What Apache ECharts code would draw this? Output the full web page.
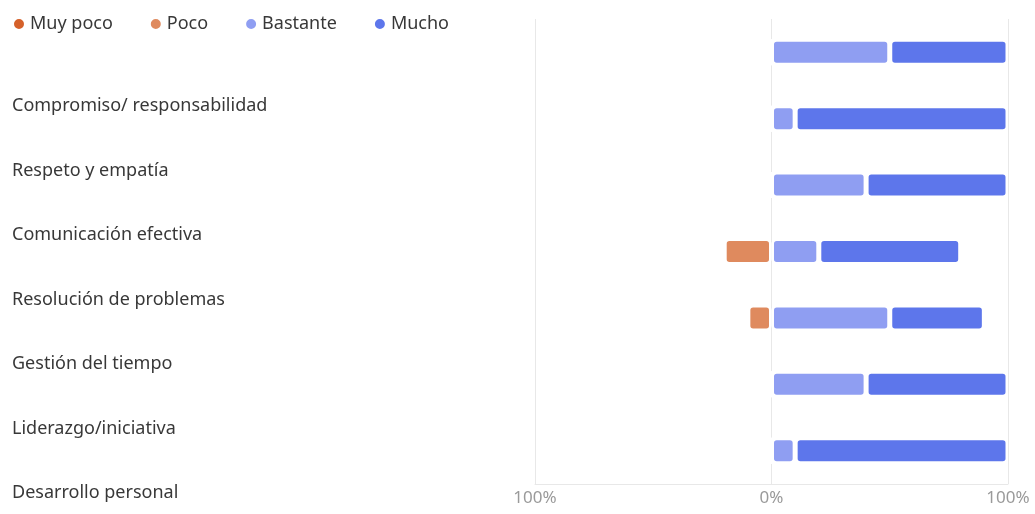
<!DOCTYPE html>
<html>
<head>
<meta charset="utf-8">
<script src="https://cdn.jsdelivr.net/npm/echarts@6/dist/echarts.min.js"></script>
<style>
  html, body { margin: 0; padding: 0; background: #fff; }
  #chart { width: 1035px; height: 514px; }
</style>
</head>
<body>
<div id="chart"></div>
<script>
// Competencias y grado de valoración (% de respuestas)
const categories = [
  'Compromiso/ responsabilidad',
  'Respeto y empatía',
  'Comunicación efectiva',
  'Resolución de problemas',
  'Gestión del tiempo',
  'Liderazgo/iniciativa',
  'Desarrollo personal'
];
const muyPoco  = [0, 0, 0, 0, 0, 0, 0];
const poco     = [0, 0, 0, 20, 10, 0, 0];
const bastante = [50, 10, 40, 20, 50, 40, 10];
const mucho    = [50, 90, 60, 60, 40, 60, 90];
const xTicks = [-100, 0, 100];

const colors = {
  muyPoco: '#D5612A',
  poco: '#DF8A5E',
  bastante: '#8F9EF2',
  mucho: '#5D76EB'
};
const FONT = 'Noto Sans';
const GRID_LINE = '#e8e8e8';

const barStyle = (color) => ({
  color: color,
  borderColor: '#ffffff',
  borderWidth: 2.5,
  borderRadius: 4
});

const chart = echarts.init(document.getElementById('chart'), null, { renderer: 'canvas' });

chart.setOption({
  animation: false,
  textStyle: { fontFamily: FONT },
  legend: {
    data: ['Muy poco', 'Poco', 'Bastante', 'Mucho'],
    left: 7,
    top: 10,
    icon: 'circle',
    itemWidth: 12,
    itemHeight: 12,
    itemGap: 36,
    textStyle: { fontFamily: FONT, fontSize: 18, color: '#383838' }
  },
  grid: [
    { left: 535, right: 27, top: 19, bottom: 30 },
    { left: 0, right: 520, top: 106, height: 387 }
  ],
  xAxis: [
    {
      gridIndex: 0,
      type: 'value',
      min: xTicks[0],
      max: xTicks[xTicks.length - 1],
      interval: 100,
      axisLine: { show: true, onZero: false, lineStyle: { color: GRID_LINE, width: 1 } },
      axisTick: { show: false },
      splitLine: { show: true, lineStyle: { color: GRID_LINE, width: 1 } },
      axisLabel: {
        color: '#9a9a9a',
        fontSize: 17,
        fontFamily: FONT,
        margin: 6,
        formatter: (v) => Math.abs(v) + '%'
      }
    },
    { gridIndex: 1, type: 'value', show: false }
  ],
  yAxis: [
    {
      gridIndex: 0,
      type: 'category',
      data: categories,
      inverse: true,
      axisLine: { show: false },
      axisTick: { show: false },
      axisLabel: { show: false },
      splitLine: { show: false }
    },
    {
      gridIndex: 1,
      type: 'category',
      data: categories,
      inverse: true,
      boundaryGap: false,
      position: 'left',
      axisLine: { show: false },
      axisTick: { show: false },
      splitLine: { show: false },
      axisLabel: {
        inside: true,
        margin: 12,
        align: 'left',
        color: '#383838',
        fontSize: 18,
        fontFamily: FONT
      }
    }
  ],
  series: [
    {
      name: 'Poco', type: 'bar', stack: 'total', barWidth: 26,
      data: poco.map(v => -v), itemStyle: barStyle(colors.poco)
    },
    {
      name: 'Muy poco', type: 'bar', stack: 'total', barWidth: 26,
      data: muyPoco.map(v => -v), itemStyle: barStyle(colors.muyPoco)
    },
    {
      name: 'Bastante', type: 'bar', stack: 'total', barWidth: 26,
      data: bastante, itemStyle: barStyle(colors.bastante)
    },
    {
      name: 'Mucho', type: 'bar', stack: 'total', barWidth: 26,
      data: mucho, itemStyle: barStyle(colors.mucho)
    }
  ]
});
</script>
</body>
</html>
